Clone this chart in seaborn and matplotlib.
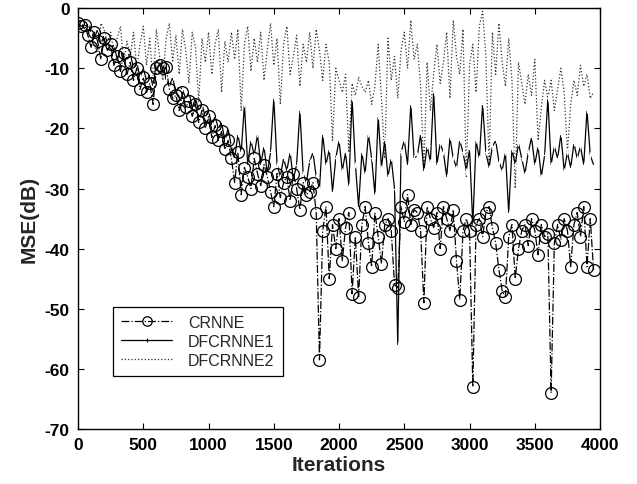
import numpy as np
import pandas as pd
import matplotlib
matplotlib.use("Agg")
import matplotlib.pyplot as plt
from matplotlib.lines import Line2D
import seaborn as sns

step = 25
crnne = [
    -2.5, -3.0, -2.8, -4.5, -6.5, -4.0, -5.5, -8.5,
    -5.0, -7.0, -6.0, -9.5, -8.0, -10.5, -7.5, -11.0,
    -9.0, -12.0, -10.0, -13.5, -11.5, -14.0, -12.5, -16.0,
    -10.0, -9.5, -10.0, -9.8, -13.5, -15.0, -14.5, -17.0,
    -14.0, -16.5, -15.5, -18.0, -16.0, -19.0, -17.0, -20.0,
    -18.0, -21.5, -19.5, -22.0, -20.5, -23.5, -22.0, -25.0,
    -29.0, -24.0, -31.0, -26.5, -28.0, -30.0, -25.0, -27.5,
    -29.5, -26.0, -28.0, -30.5, -33.0, -27.5, -31.5, -29.0,
    -28.0, -32.0, -27.5, -30.0, -33.5, -29.0, -31.0, -30.5,
    -29.0, -34.0, -58.5, -37.0, -33.0, -45.0, -36.0, -40.0,
    -35.0, -42.0, -36.5, -34.0, -47.5, -38.0, -48.0, -36.0,
    -33.0, -39.0, -43.0, -34.0, -38.0, -42.5, -36.0, -35.0,
    -37.0, -46.0, -46.5, -33.0, -35.5, -31.0, -36.0, -33.5,
    -34.0, -37.0, -49.0, -33.0, -35.0, -36.5, -34.0, -40.0,
    -33.0, -35.0, -37.0, -33.5, -42.0, -48.5, -37.0, -35.0,
    -37.0, -63.0, -36.0, -35.0, -38.0, -34.0, -33.0, -36.5,
    -39.0, -43.5, -47.0, -48.0, -38.0, -36.0, -45.0, -40.0,
    -37.0, -36.0, -39.5, -35.0, -37.0, -41.0, -36.0, -38.0,
    -37.5, -64.0, -39.0, -36.0, -38.5, -35.0, -37.0, -43.0,
    -36.0, -34.0, -38.0, -33.0, -43.0, -35.0, -43.5,
]
dfcrnne1 = [
    -2.0, -2.5, -3.5, -2.5, -4.0, -5.0, -3.5, -6.0,
    -4.5, -5.5, -7.0, -6.0, -8.5, -7.0, -9.0, -8.0,
    -7.5, -10.0, -9.0, -11.5, -10.0, -12.0, -11.0, -13.0,
    -9.0, -8.5, -9.0, -12.0, -13.0, -11.5, -14.0, -13.0,
    -13.5, -15.0, -14.0, -16.5, -15.0, -17.0, -16.0, -18.0,
    -17.0, -19.5, -18.0, -20.0, -19.0, -22.0, -20.0, -23.0,
    -25.0, -21.0, -24.0, -16.0, -26.0, -22.0, -24.5, -21.0,
    -26.0, -23.0, -27.5, -24.0, -15.0, -26.0, -28.0, -25.0,
    -27.0, -24.0, -28.5, -26.0, -17.0, -27.5, -29.0, -25.5,
    -24.0, -28.0, -30.0, -21.0, -26.0, -23.5, -30.5, -25.0,
    -22.0, -27.0, -24.0, -29.5, -15.0, -26.0, -33.0, -24.0,
    -27.5, -21.0, -25.0, -31.0, -18.0, -26.5, -22.0, -28.0,
    -25.0, -30.0, -56.0, -24.0, -22.0, -26.0, -16.0, -25.0,
    -24.5, -21.0, -27.0, -23.0, -25.5, -14.0, -26.0, -22.5,
    -24.0, -28.0, -21.5, -25.0, -26.5, -22.0, -24.0, -27.0,
    -23.5, -36.0, -22.0, -25.0, -16.0, -24.0, -26.5, -23.0,
    -22.0, -25.5, -27.0, -24.0, -34.0, -23.5, -26.0, -22.5,
    -25.0, -27.5, -24.0, -21.5, -26.0, -23.0, -28.0, -24.5,
    -15.0, -26.0, -23.0, -25.0, -21.0, -27.0, -24.0, -26.5,
    -22.5, -25.0, -23.0, -26.0, -17.0, -24.5, -26.0,
]
dfcrnne2 = [
    -2.0, -3.0, -2.5, -4.0, -3.0, -5.5, -8.0, -2.5,
    -3.5, -6.0, -4.0, -7.5, -5.0, -3.0, -9.0, -5.5,
    -8.0, -4.0, -10.0, -6.0, -3.0, -9.5, -5.0, -13.0,
    -3.5, -8.0, -12.0, -5.0, -2.5, -9.0, -4.5, -11.0,
    -3.5, -7.0, -12.5, -4.0, -6.5, -15.5, -5.0, -9.0,
    -4.0, -11.0, -6.0, -3.5, -14.0, -5.5, -9.0, -4.0,
    -8.5, -3.5, -17.0, -6.0, -3.0, -10.5, -5.0, -9.0,
    -4.0, -12.0, -7.0, -2.5, -9.5, -5.0, -16.0, -6.0,
    -3.0, -11.0, -8.0, -4.5, -13.0, -6.0, -9.0, -4.0,
    -10.0, -3.5, -7.0, -12.0, -6.0, -9.0, -22.0, -10.0,
    -12.0, -14.0, -11.0, -24.0, -12.5, -14.5, -11.5, -13.0,
    -14.0, -12.0, -16.0, -13.0, -6.0, -15.0, -25.0, -5.0,
    -12.0, -8.0, -15.0, -7.0, -4.0, -10.0, -2.0, -8.5,
    -6.0, -13.0, -27.0, -9.0, -17.0, -11.0, -6.0, -12.5,
    -9.0, -4.0, -15.0, -2.0, -8.0, -11.0, -3.5, -28.0,
    -9.5, -6.0, -14.0, -3.0, -0.5, -8.0, -26.0, -4.0,
    -11.0, -2.5, -9.0, -13.0, -5.0, -12.0, -30.0, -9.0,
    -12.5, -16.0, -11.0, -14.5, -8.5, -22.0, -16.5, -12.0,
    -15.0, -12.0, -17.0, -13.5, -10.0, -14.0, -24.0, -16.0,
    -12.0, -14.5, -9.5, -13.0, -11.0, -15.0, -14.0,
]
iters = np.arange(len(crnne)) * step

x_ticks = [0, 500, 1000, 1500, 2000, 2500, 3000, 3500, 4000]
y_ticks = [0, -10, -20, -30, -40, -50, -60, -70]

sns.set_theme(style="white")
plt.rcParams['font.family'] = ['Liberation Sans', 'DejaVu Sans']

df = pd.DataFrame({"it": iters, "CRNNE": crnne, "DFCRNNE1": dfcrnne1, "DFCRNNE2": dfcrnne2})

fig = plt.figure(figsize=(6.37, 4.85), dpi=100)
ax = fig.add_axes([0.1225, 0.1134, 0.8195, 0.8676])

s2 = dict(color="#333333", linestyle=":", linewidth=0.9)
s1 = dict(color="black", linestyle="-", linewidth=0.9, marker="+", markersize=4,
          markeredgewidth=0.8)
s0 = dict(color="black", linestyle="-.", linewidth=0.9, marker="o", markersize=8.5,
          markerfacecolor="none", markeredgecolor="black", markeredgewidth=0.9)

sns.lineplot(data=df, x="it", y="DFCRNNE2", ax=ax, legend=False, **s2)
sns.lineplot(data=df, x="it", y="DFCRNNE1", ax=ax, legend=False, **s1)
sns.lineplot(data=df, x="it", y="CRNNE", ax=ax, legend=False, **s0)

ax.set_xlim(0, 4000)
ax.set_ylim(-70, 0)
ax.set_xticks(x_ticks)
ax.set_yticks(y_ticks)
ax.set_xticklabels([str(t) for t in x_ticks], fontsize=12.5, fontweight="bold")
ax.set_yticklabels([str(t) for t in y_ticks], fontsize=12.5, fontweight="bold")
ax.tick_params(direction="in", length=4, width=0.8, top=True, right=True,
               bottom=True, left=True, pad=6, colors="black")
for s in ax.spines.values():
    s.set_color("black")
    s.set_linewidth(1.0)
ax.set_xlabel("Iterations", fontsize=15, fontweight="bold", labelpad=2)
ax.set_ylabel("MSE(dB)", fontsize=15, fontweight="bold", labelpad=4)

handles = [Line2D([], [], **s0), Line2D([], [], **s1), Line2D([], [], **s2)]
leg = ax.legend(handles, ["CRNNE", "DFCRNNE1", "DFCRNNE2"],
                loc="upper left", bbox_to_anchor=(0.067, 0.29), borderaxespad=0,
                fancybox=False, framealpha=1, edgecolor="black",
                prop={"size": 11.5}, handlelength=3.2, handletextpad=1.0,
                borderpad=0.5, labelspacing=0.25, markerscale=0.8)
leg.get_frame().set_linewidth(0.9)

fig.savefig("out.png", dpi=100)
